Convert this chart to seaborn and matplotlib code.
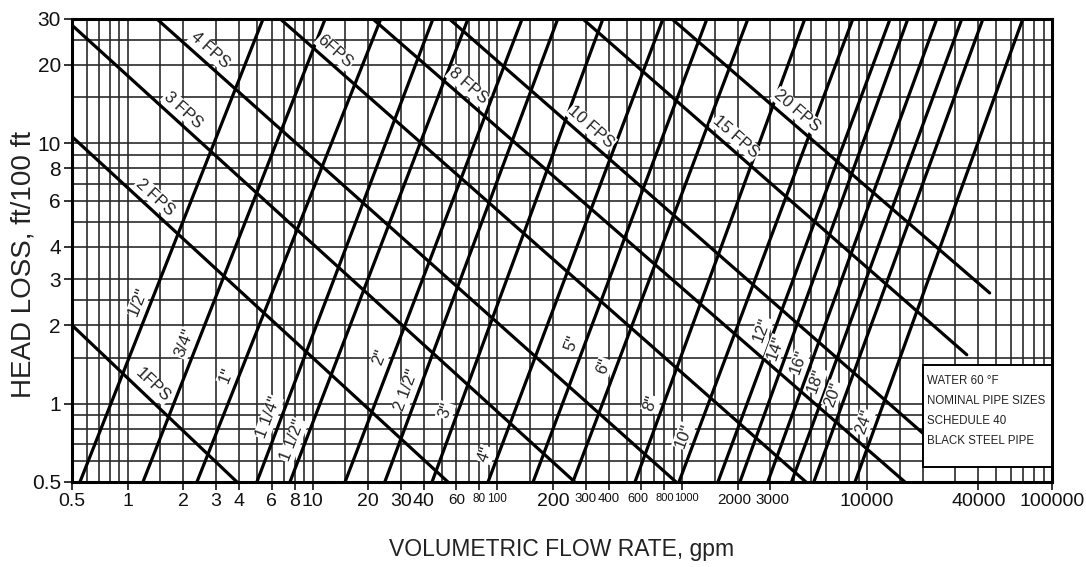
import numpy as np
import pandas as pd
import matplotlib
matplotlib.use("Agg")
import matplotlib.pyplot as plt
from matplotlib import ticker
from matplotlib.patches import Rectangle
from matplotlib.transforms import ScaledTranslation
import seaborn as sns

# ---- datos (gpm, ft/100 ft) ----
# lineas de velocidad constante: punto inicial y final
fps_names = ["1FPS", "2 FPS", "3 FPS", "4 FPS", "6FPS", "8 FPS", "10 FPS", "15 FPS", "20 FPS"]
fps_q0 = [0.5, 0.5, 0.5, 1.44, 6.7, 21.2, 55, 290, 880]
fps_h0 = [2.0, 10.6, 28.4, 30, 30, 30, 30, 30, 30]
fps_q1 = [3.9, 54, 262, 925, 4665, 16000, 20000, 34600, 46000]
fps_h1 = [0.5, 0.5, 0.5, 0.5, 0.5, 0.5, 0.77, 1.54, 2.66]

# lineas de diametro nominal: caudal a 0.5 y a 30 ft/100 ft
pipe_names = ['1/2"', '3/4"', '1"', '1 1/4"', '1 1/2"', '2"', '2 1/2"', '3"', '4"', '5"',
              '6"', '8"', '10"', '12"', '14"', '16"', '18"', '20"', '24"']
pipe_q0 = [0.552, 1.21, 2.37, 5.0, 7.55, 15.0, 24.6, 44.3, 89, 156,
           256, 555, 960, 1560, 2050, 2900, 3900, 5150, 8600]
pipe_h0 = [0.5, 0.5, 0.5, 0.5, 0.5, 0.5, 0.5, 0.5, 0.5, 0.5,
           0.5, 0.5, 0.5, 0.5, 0.5, 0.5, 0.5, 0.5, 0.5]
pipe_q1 = [5.4, 11.7, 23.4, 44.8, 69.3, 136, 212, 372, 786, 1359,
           2265, 4600, 8370, 13300, 16600, 23800, 32500, 42300, 69500]
pipe_h1 = [30, 30, 30, 30, 30, 30, 30, 30, 30, 30,
           30, 30, 30, 30, 30, 30, 30, 30, 30]

x_ticks = [0.5, 1, 2, 3, 4, 6, 8, 10, 20, 30, 40, 60, 80, 100, 200, 300, 400, 600, 800,
           1000, 2000, 3000, 10000, 40000, 100000]
x_labels = ["0.5", "1", "2", "3", "4", "6", "8", "10", "20", "30", "40", "60", "80", "100",
            "200", "300", "400", "600", "800", "1000", "2000", "3000", "10000", "40000", "100000"]
y_ticks = [0.5, 1, 2, 3, 4, 6, 8, 10, 20, 30]
y_labels = ["0.5", "1", "2", "3", "4", "6", "8", "10", "20", "30"]

x_grid_mult = [1, 1.5, 2, 3, 4, 5, 6, 7, 8, 9]
y_grid_mult = [1, 1.5, 2, 2.5, 3, 4, 5, 6, 7, 8, 9]

# donde va cada etiqueta sobre su linea (fraccion del recorrido)
fps_lab = [0.44, 0.20, 0.205, 0.087, 0.089, 0.164, 0.283, 0.378, 0.368]
pipe_lab = [0.38, 0.29, 0.22, 0.13, 0.08, 0.26, 0.19, 0.145, 0.05, 0.29,
            0.24, 0.16, 0.09, 0.32, 0.28, 0.25, 0.21, 0.18, 0.12]

note = "WATER 60 °F\nNOMINAL PIPE SIZES\nSCHEDULE 40\nBLACK STEEL PIPE"

# ---- estilo ----
sns.set_style("white")
plt.rcParams["font.family"] = ["Liberation Sans", "DejaVu Sans"]

# ---- tabla larga para seaborn ----
rows = []
for i, n in enumerate(fps_names):
    rows.append((n, fps_q0[i], fps_h0[i]))
    rows.append((n, fps_q1[i], fps_h1[i]))
for i, n in enumerate(pipe_names):
    rows.append((n, pipe_q0[i], pipe_h0[i]))
    rows.append((n, pipe_q1[i], pipe_h1[i]))
df = pd.DataFrame(rows, columns=["line", "gpm", "head"])

fig, ax = plt.subplots(figsize=(10.86, 5.67), dpi=100)
fig.subplots_adjust(left=0.0663, right=0.9687, bottom=0.150, top=0.9665)

ax.set_xscale("log")
ax.set_yscale("log")
sns.lineplot(data=df, x="gpm", y="head", units="line", estimator=None, sort=False,
             color="black", lw=2.3, ax=ax, zorder=3)
ax.set_xlim(0.5, 100000)
ax.set_ylim(0.5, 30)

# rejilla densa
xg = [m * 10.0 ** k for k in range(-1, 5) for m in x_grid_mult]
xg = [v for v in xg if 0.5 < v < 100000]
yg = [m * 10.0 ** k for k in range(-1, 2) for m in y_grid_mult]
yg = [v for v in yg if 0.5 < v < 30]
ax.xaxis.set_minor_locator(ticker.FixedLocator(xg))
ax.yaxis.set_minor_locator(ticker.FixedLocator(yg))
ax.xaxis.set_minor_formatter(ticker.NullFormatter())
ax.yaxis.set_minor_formatter(ticker.NullFormatter())
ax.grid(which="both", color="#2a2a2a", lw=1.2)
ax.set_axisbelow(True)

ax.set_xticks(x_ticks)
ax.set_xticklabels(x_labels)
ax.set_yticks(y_ticks)
ax.set_yticklabels(y_labels)
ax.tick_params(which="major", direction="out", length=6, width=1.2, labelsize=14,
               bottom=True, left=True, pad=2, colors="#111")
ax.tick_params(axis="y", labelsize=15)
ax.tick_params(which="minor", length=0)

# etiquetas apretadas del eje x: mas pequenas y algo corridas
small = {"60": 11, "80": 8.5, "100": 8.5, "300": 9.5, "400": 9.5,
         "600": 9, "800": 8, "1000": 8, "2000": 11, "3000": 11}
nudge = {"600": -3, "1000": 4, "2000": -4, "3000": 2}
for t in ax.get_xticklabels():
    txt = t.get_text()
    if txt in small:
        t.set_fontsize(small[txt])
    if txt in nudge:
        t.set_transform(t.get_transform() + ScaledTranslation(nudge[txt] / 100, 0, fig.dpi_scale_trans))

for s in ax.spines.values():
    s.set_color("black")
    s.set_linewidth(2.2)

ax.set_xlabel("VOLUMETRIC FLOW RATE, gpm", fontsize=16.5, color="#222")
ax.set_ylabel("HEAD LOSS, ft/100 ft", fontsize=20, color="#222")
ax.xaxis.set_label_coords(0.5, -0.12)
ax.yaxis.set_label_coords(-0.036, 0.47)


def label_line(name, q0, h0, q1, h1, frac, off=12):
    lq = 10 ** (np.log10(q0) + frac * (np.log10(q1) - np.log10(q0)))
    lh = 10 ** (np.log10(h0) + frac * (np.log10(h1) - np.log10(h0)))
    p0 = ax.transData.transform((q0, h0))
    p1 = ax.transData.transform((q1, h1))
    d = p1 - p0
    ang = np.degrees(np.arctan2(d[1], d[0]))
    # normal hacia arriba de la linea: la etiqueta va pegada encima
    n = np.array([-d[1], d[0]]) / np.hypot(d[0], d[1])
    ax.annotate(name, xy=(lq, lh), xytext=(off * n[0], off * n[1]), textcoords="offset pixels",
                rotation=ang, rotation_mode="anchor", ha="center", va="center",
                fontsize=12, color="#222", zorder=4,
                bbox=dict(facecolor="white", edgecolor="none", pad=0.6))


for i, n in enumerate(fps_names):
    label_line(n, fps_q0[i], fps_h0[i], fps_q1[i], fps_h1[i], fps_lab[i])
for i, n in enumerate(pipe_names):
    label_line(n, pipe_q0[i], pipe_h0[i], pipe_q1[i], pipe_h1[i], pipe_lab[i])

# recuadro de notas
ax.add_patch(Rectangle((0.868, 0.032), 0.132, 0.221, transform=ax.transAxes,
                       facecolor="white", edgecolor="black", lw=1.4, zorder=6))
ax.text(0.872, 0.232, note, transform=ax.transAxes, ha="left", va="top",
        fontsize=8.3, linespacing=1.9, color="#222", zorder=7)

fig.savefig("out.png", dpi=100)
